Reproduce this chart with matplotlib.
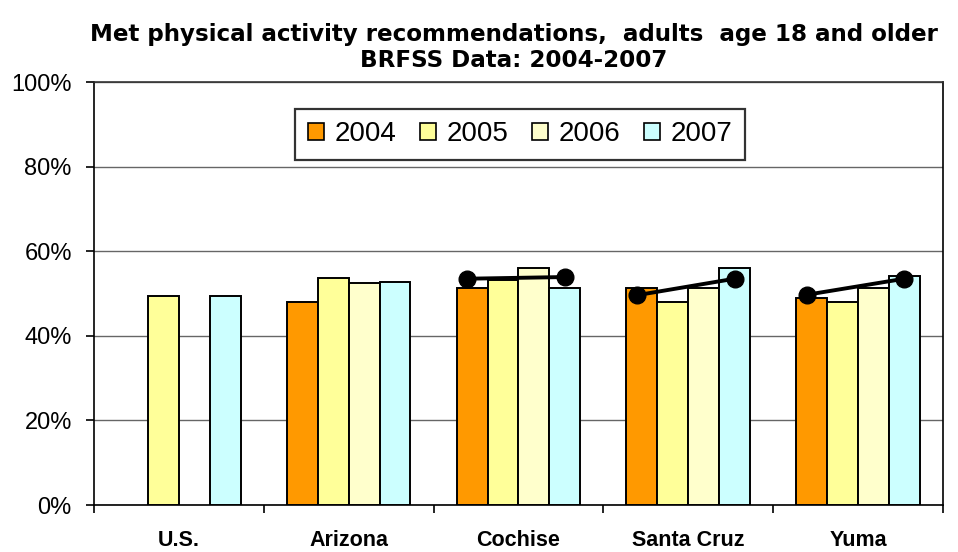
import numpy as np
import matplotlib
matplotlib.use("Agg")
import matplotlib.pyplot as plt
from matplotlib.patches import Patch

regions = ["U.S.", "Arizona", "Cochise", "Santa Cruz", "Yuma"]
years = ["2004", "2005", "2006", "2007"]

# percent meeting recommendations (nan = no bar)
val_2004 = [np.nan, 48.0, 51.3, 51.3, 49.0]
val_2005 = [49.5, 53.7, 53.3, 48.0, 48.0]
val_2006 = [np.nan, 52.4, 56.0, 51.2, 51.2]
val_2007 = [49.5, 52.8, 51.3, 56.1, 54.2]

# trend markers (2004 -> 2007)
trend_2004 = [np.nan, np.nan, 53.5, 49.6, 49.7]
trend_2007 = [np.nan, np.nan, 53.9, 53.5, 53.5]

colors = ["#FF9900", "#FFFF99", "#FFFFCC", "#CCFFFF"]

fig = plt.figure(figsize=(9.58, 5.52), dpi=100)
ax = fig.add_axes([0.0981, 0.0851, 0.8862, 0.7663])

x = np.arange(len(regions))
width = 0.182
series = [val_2004, val_2005, val_2006, val_2007]
offsets = (np.arange(4) - 1.5) * width

for i, vals in enumerate(series):
    ax.bar(x + offsets[i], vals, width, color=colors[i], edgecolor="black",
           linewidth=1.4, zorder=3)

for j in range(len(regions)):
    if np.isnan(trend_2004[j]):
        continue
    ax.plot([x[j] + offsets[0] - 0.03, x[j] + offsets[3]], [trend_2004[j], trend_2007[j]],
            color="black", linewidth=2.8, marker="o", markersize=12, zorder=4)

ax.set_xlim(-0.5, len(regions) - 0.5)
ax.set_ylim(0, 100)
ax.set_yticks(range(0, 101, 20))
ax.set_yticklabels([f"{v}%" for v in range(0, 101, 20)],
                   fontfamily="Liberation Sans", fontsize=17)
ax.yaxis.grid(True, color="#666666", linewidth=1, zorder=0)
ax.tick_params(axis="y", length=6, width=1.2, direction="out", pad=10)

ax.set_xticks(np.arange(len(regions) + 1) - 0.5)
ax.set_xticklabels([])
ax.tick_params(axis="x", length=6, width=1.2, direction="out")
ax.set_xticks(x, minor=True)
ax.set_xticklabels(regions, minor=True, fontfamily="Liberation Sans",
                   fontweight="bold", fontsize=15.5)
ax.tick_params(axis="x", which="minor", length=0, pad=18)

for side in ["left", "bottom", "right", "top"]:
    ax.spines[side].set_linewidth(1.2)
    ax.spines[side].set_color("black")
ax.spines["top"].set_color("#333333")

handles = [Patch(facecolor=c, edgecolor="black", linewidth=1.2) for c in colors]
leg = ax.legend(handles, years, loc="center", bbox_to_anchor=(0.502, 0.877), ncol=4,
                frameon=True, fancybox=False, edgecolor="black",
                prop={"family": "Liberation Sans", "size": 20},
                handlelength=0.58, handleheight=0.58, handletextpad=0.4,
                columnspacing=0.83, borderpad=0.45)
leg.get_frame().set_linewidth(1.6)

fig.text(0.5365, 0.937, "Met physical activity recommendations,  adults  age 18 and older",
         ha="center", va="center", fontfamily="DejaVu Sans", fontweight="bold", fontsize=16.6)
fig.text(0.5365, 0.891, "BRFSS Data: 2004-2007",
         ha="center", va="center", fontfamily="DejaVu Sans", fontweight="bold", fontsize=16.6)

fig.savefig("out.png", dpi=100)
